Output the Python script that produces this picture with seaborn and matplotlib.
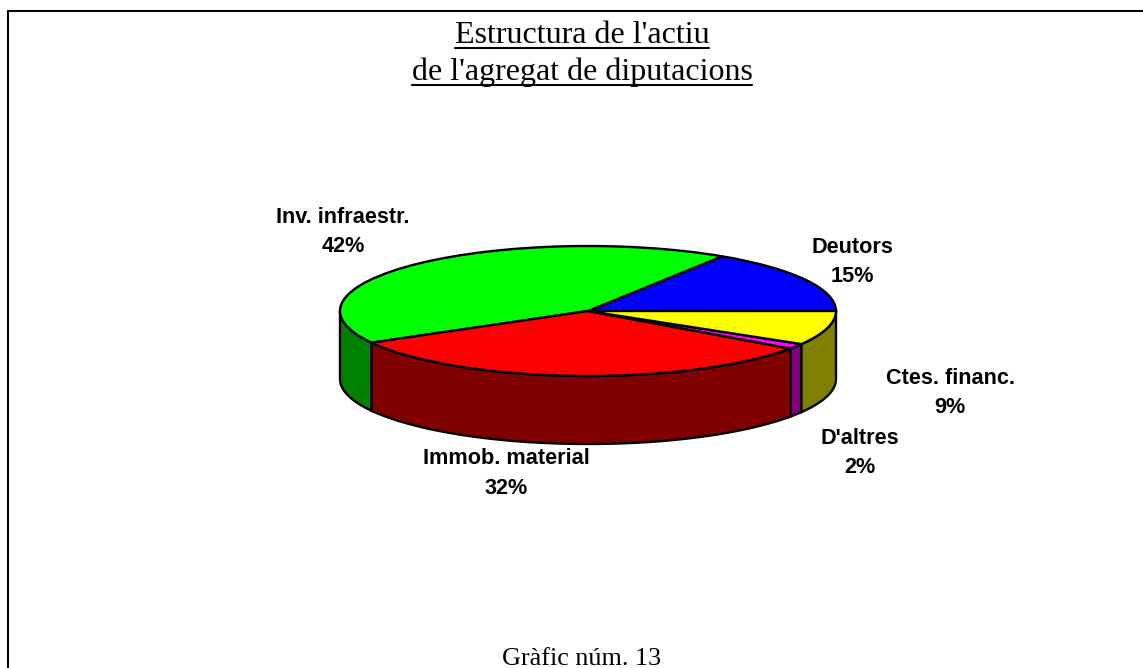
import numpy as np
import matplotlib
matplotlib.use('Agg')
import matplotlib.pyplot as plt
from matplotlib.lines import Line2D
import seaborn as sns

# dades del grafic
categories = ['Deutors', 'Inv. infraestr.', 'Immob. material', "D'altres", 'Ctes. financ.']
shares = [15.9, 42.2, 32.1, 1.3, 8.5]   # mesurat sobre el dibuix
pct_labels = ['15%', '42%', '32%', '2%', '9%']
top_colors = ['#0000FF', '#00FF00', '#FF0000', '#FF00FF', '#FFFF00']
side_colors = ['#000080', '#008000', '#800000', '#800080', '#808000']
title_lines = ["Estructura de l'actiu", "de l'agregat de diputacions"]
footer = 'Gràfic núm. 13'

W, H = 1143, 668
cx, cy, rx, ry, depth = 588, 311, 248, 65, 68

sns.set_theme(style='white')
fig = plt.figure(figsize=(W / 100, H / 100), dpi=100, facecolor='white')
ax = fig.add_axes([0, 0, 1, 1])


def px(x, y):
    return x / W, 1 - y / H


# costat del pastis, nomes la meitat de davant
edges = np.concatenate([[0], np.cumsum(shares)]) * 3.6
d = depth / ry
for i in range(len(shares)):
    a0, a1 = max(edges[i], 180), min(edges[i + 1], 360)
    if a1 <= a0:
        continue
    t = np.radians(np.linspace(a0, a1, 80))
    xs = np.concatenate([np.cos(t), np.cos(t)[::-1]])
    ys = np.concatenate([np.sin(t), np.sin(t)[::-1] - d])
    ax.fill(xs, ys, facecolor=side_colors[i], edgecolor='black', lw=1.7, zorder=1)

wedges, _ = ax.pie(shares, colors=sns.color_palette(top_colors), startangle=0,
                   counterclock=True, frame=True,
                   wedgeprops={'edgecolor': 'black', 'linewidth': 1.7, 'zorder': 2})
ax.set_aspect('auto')
ax.set_xlim(-cx / rx, (W - cx) / rx)
ax.set_ylim(-(H - cy) / ry, cy / ry)
ax.axis('off')

# etiquetes
label_pos = [(852, 261.5), (343, 231.5), (506, 473.5), (860, 453), (950, 393)]
for name, pct, (lx, ly) in zip(categories, pct_labels, label_pos):
    fig.text(*px(lx, ly), name + '\n' + pct, ha='center', va='center', multialignment='center',
             family='Liberation Sans', fontweight='bold', fontsize=15.6, color='black', linespacing=1.5)

# titol i peu
title_y = [43, 80]
under_y = [48, 85]
renderer = fig.canvas.get_renderer()
for line, ty, uy in zip(title_lines, title_y, under_y):
    txt = fig.text(*px(582, ty), line, ha='center', va='baseline',
                   family='Liberation Serif', fontsize=23, color='black')
    box = txt.get_window_extent(renderer)
    x0, y0 = px(box.x0, uy)
    x1, _ = px(box.x1, uy)
    fig.add_artist(Line2D([x0, x1], [y0, y0], color='black', lw=1.5, transform=fig.transFigure))
fig.text(*px(582, 665), footer, ha='center', va='baseline', family='Liberation Serif',
         fontsize=18.8, color='black')

# marc: nomes dalt i esquerra
fx, fy = px(8, 11)
fig.add_artist(Line2D([fx, 1], [fy, fy], color='black', lw=1.5, transform=fig.transFigure))
fig.add_artist(Line2D([fx, fx], [fy, 0], color='black', lw=1.5, transform=fig.transFigure))

fig.savefig('out.png', dpi=100, facecolor='white')
